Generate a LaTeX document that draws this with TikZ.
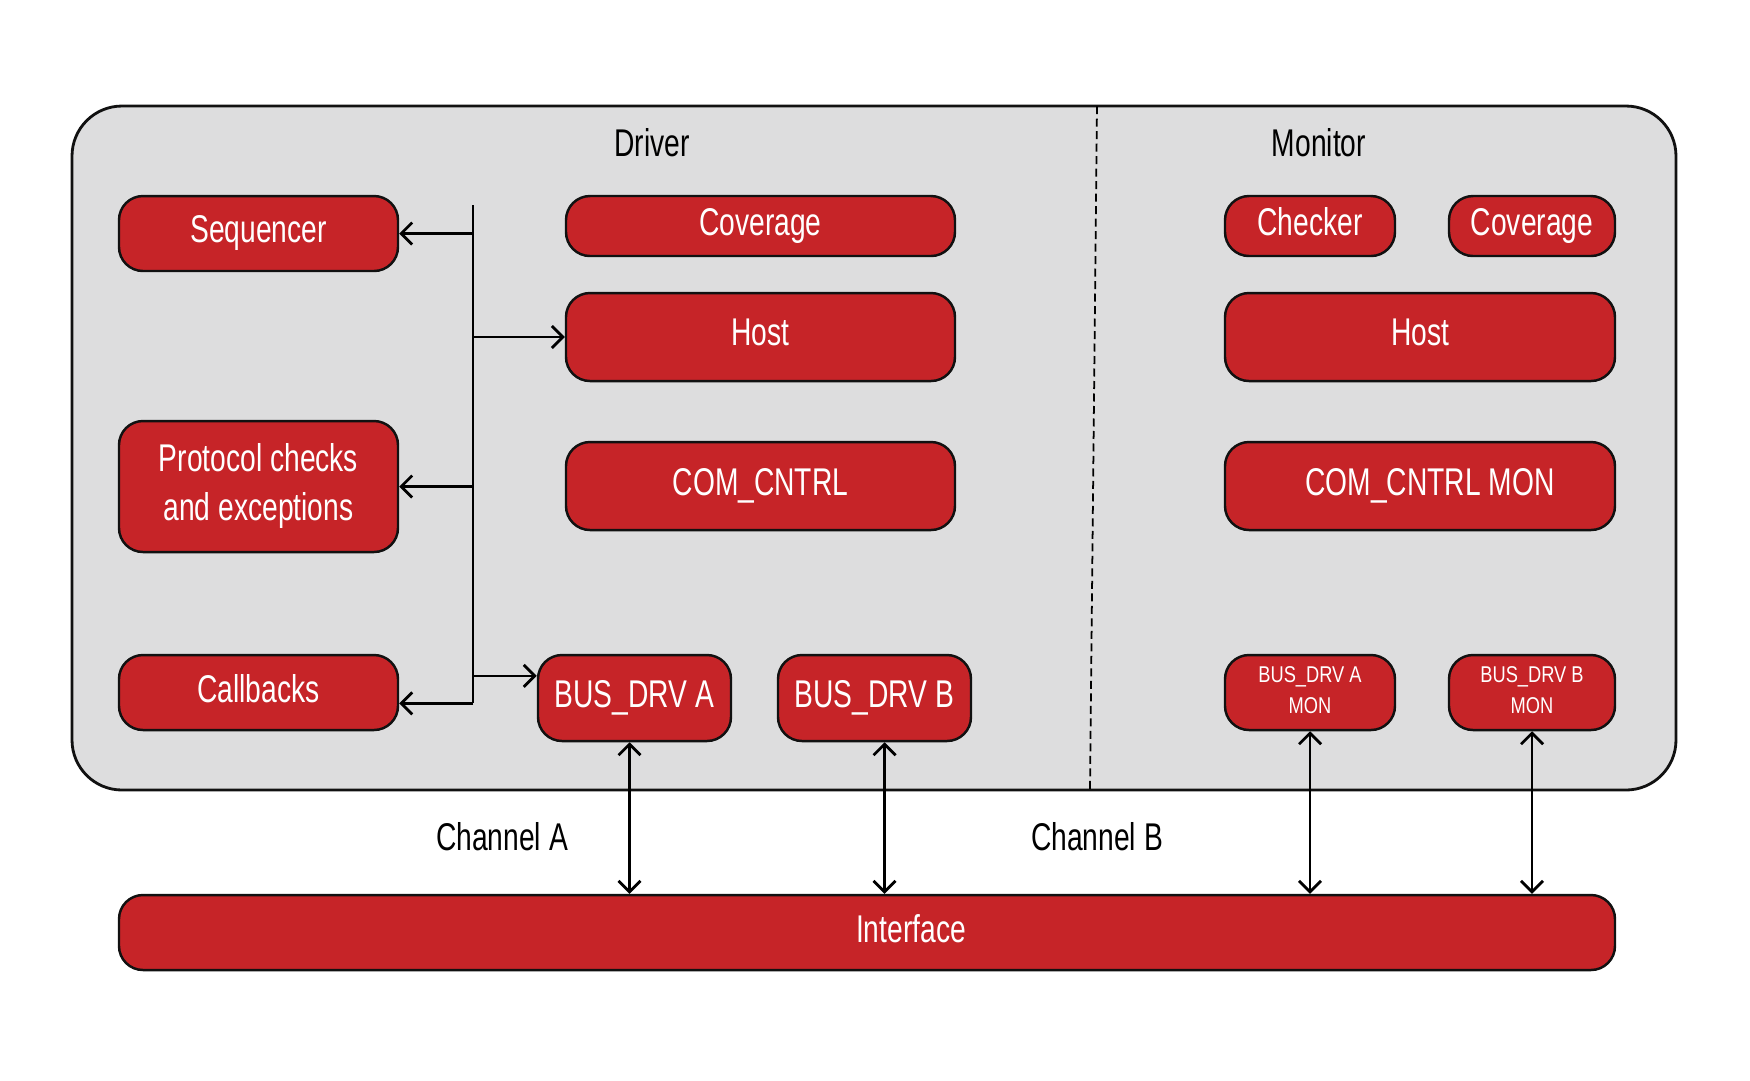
\documentclass[tikz,border=0pt]{standalone}
\usepackage{fontspec}
\setmainfont{Liberation Sans}[FakeStretch=0.73]
\newfontfamily\monfont{Liberation Sans}[FakeStretch=0.8]
\usetikzlibrary{arrows.meta,positioning,calc}
\definecolor{BoxRed}{HTML}{C62428}
\definecolor{Panel}{HTML}{DDDDDE}
\definecolor{Edge}{HTML}{111111}

\tikzset{
  block/.style={
    draw=Edge,
    fill=BoxRed,
    line width=0.7pt,
    rounded corners=2.4mm,
    text=white,
    align=center,
    inner sep=0pt,
    text depth=0.9mm,
    font=\fontsize{11}{14}\selectfont
  },
  monblock/.style={block, text depth=0.5mm, font=\monfont\fontsize{6.5}{8.8}\selectfont},
  link/.style={line width=0.8pt, -{Straight Barb[length=1.1mm,width=2.2mm]}},
  duplex/.style={line width=0.8pt, {Straight Barb[length=1.1mm,width=2.2mm]}-{Straight Barb[length=1.1mm,width=2.2mm]}},
  caption/.style={font=\fontsize{11}{14}\selectfont, text=black, inner sep=0pt}
}

\begin{document}
\begin{tikzpicture}[x=0.1mm, y=-0.1mm]
  \useasboundingbox (0,0) rectangle (1750,1080);

  \node[
    draw=Edge,
    fill=Panel,
    rounded corners=5mm,
    line width=0.8pt,
    minimum width=160.4mm,
    minimum height=68.4mm
  ] (panel) at (874,448) {};

  \coordinate (splitTop) at (1097,106);
  \coordinate (splitBot) at (1090,790);
  \draw[line width=0.5pt, dash pattern=on 0.8mm off 0.45mm] (splitTop) -- (splitBot);

  \node[caption] (drvTitle) at (652,143) {Driver};
  \node[caption] (monTitle) at (1319,143) {Monitor};

  \node[block, minimum width=27.9mm, minimum height=7.5mm] (seq) at (258.5,233.5) {Sequencer};
  \node[block, minimum width=27.9mm, minimum height=13.1mm] (proto) at (258.5,486.5) {Protocol checks\\and exceptions};
  \node[block, minimum width=27.9mm, minimum height=7.5mm] (cb) at (258.5,692.5) {Callbacks};

  \node[block, minimum width=38.9mm, minimum height=6mm] (drvCov) at (760.5,226) {Coverage};
  \node[block, minimum width=38.9mm, minimum height=8.8mm] (drvHost) at (760.5,337) {Host};
  \node[block, minimum width=38.9mm, minimum height=8.8mm] (drvCom) at (760.5,486) {COM\_CNTRL};
  \node[block, minimum width=19.3mm, minimum height=8.6mm] (drvA) at (634.5,698) {BUS\_DRV A};
  \node[block, minimum width=19.3mm, minimum height=8.6mm] (drvB) at (874.5,698) {BUS\_DRV B};

  \node[block, minimum width=17mm, minimum height=6mm] (chk) at (1310,226) {Checker};
  \node[block, minimum width=16.6mm, minimum height=6mm] (monCov) at (1532,226) {Coverage};
  \node[block, minimum width=39mm, minimum height=8.8mm] (monHost) at (1420,337) {Host};
  \node[block, minimum width=39mm, minimum height=8.8mm] (monCom) at (1420,486) {\hspace*{2mm}COM\_CNTRL MON};
  \node[monblock, minimum width=17mm, minimum height=7.5mm] (monA) at (1310,692.5) {BUS\_DRV A\\MON};
  \node[monblock, minimum width=16.6mm, minimum height=7.5mm] (monB) at (1532,692.5) {BUS\_DRV B\\MON};

  \node[block, minimum width=149.6mm, minimum height=7.5mm] (iface) at (867,932.5) {\hspace*{8.8mm}Interface};

  \node[caption] (chA) at (502,837) {Channel A};
  \node[caption] (chB) at (1097,837) {Channel B};

  \coordinate (busTop) at (473,205);
  \coordinate (busBot) at ($(cb.north east)!0.64!(cb.south east)$);
  \draw[line width=0.8pt] (busTop) -- (busTop |- busBot);
  \draw[link] (busTop |- seq.east) -- (seq.east);
  \draw[link] (busTop |- drvHost.west) -- (drvHost.west);
  \draw[link] (busTop |- proto.east) -- (proto.east);
  \draw[link] (busTop |- busBot) -- (busBot);
  \coordinate (drvAin) at ($(drvA.north west)!0.25!(drvA.south west)$);
  \draw[link] (busTop |- drvAin) -- (drvAin);

  \coordinate (drvAport) at ($(drvA.south)+(-5,0)$);
  \coordinate (drvBport) at ($(drvB.south)+(10,0)$);
  \draw[duplex] (drvAport) -- (drvAport |- iface.north);
  \draw[duplex] (drvBport) -- (drvBport |- iface.north);
  \draw[duplex] (monA.south) -- (monA.south |- iface.north);
  \draw[duplex] (monB.south) -- (monB.south |- iface.north);
\end{tikzpicture}
\end{document}
